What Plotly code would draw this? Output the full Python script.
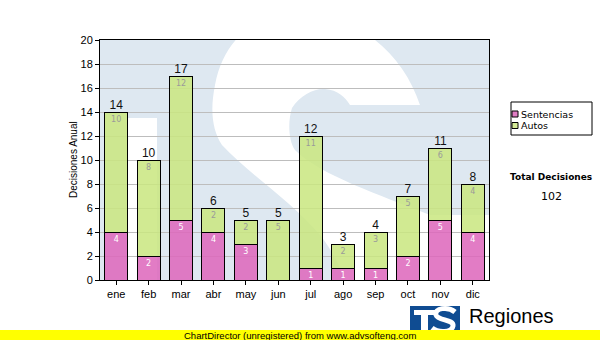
import plotly.graph_objects as go

# Monthly decisions by type
meses = ["ene", "feb", "mar", "abr", "may", "jun", "jul", "ago", "sep", "oct", "nov", "dic"]
sentencias = [4, 2, 5, 4, 3, 0, 1, 1, 1, 2, 5, 4]
autos = [10, 8, 12, 2, 2, 5, 11, 2, 3, 5, 6, 4]
totales = [s + a for s, a in zip(sentencias, autos)]
total_decisiones = sum(totales)
y_ticks = list(range(0, 21, 2))

series_names = ["Sentencias", "Autos"]
series_colors = ["rgba(221,102,187,0.86)", "rgba(202,230,128,0.86)"]
legend_swatch = ["#df7dc3", "#d4ea96"]

# plot area in page pixels
W, H = 600, 340
L, R, T, B = 100, 489, 40, 280
YMAX = 20
NCAT = len(meses)


def pxx(x):
    return (x - L) / (R - L)


def pxy(y):
    return (B - y) / (B - T)


def to_data(x, y):
    return ((x - L) / (R - L) * NCAT - 0.5, (B - y) / (B - T) * YMAX)


def path_from(cmds):
    out = []
    for c in cmds:
        if isinstance(c, str):
            out.append(c)
        else:
            dx, dy = to_data(*c)
            out.append(f"{dx:.3f},{dy:.3f}")
    return " ".join(out)


xs = list(range(NCAT))

fig = go.Figure()
fig.add_bar(
    x=xs, y=sentencias, name=series_names[0], width=0.71,
    marker=dict(color=series_colors[0], line=dict(color="black", width=1)),
    text=[str(v) if v else "" for v in sentencias],
    textposition="inside", insidetextanchor="end", textangle=0,
    constraintext="none",
    textfont=dict(family="DejaVu Sans", size=8, color="white"),
    hoverinfo="skip", showlegend=False,
)
fig.add_bar(
    x=xs, y=autos, name=series_names[1], width=0.71,
    marker=dict(color=series_colors[1], line=dict(color="black", width=1)),
    text=[str(v) if v else "" for v in autos],
    textposition="inside", insidetextanchor="end", textangle=0,
    constraintext="none",
    textfont=dict(family="DejaVu Sans", size=8, color="#9a9a9a"),
    hoverinfo="skip", showlegend=False,
)
fig.add_scatter(
    x=xs, y=totales, mode="text", text=[str(v) for v in totales],
    textposition="top center", cliponaxis=False,
    textfont=dict(family="Liberation Sans", size=12, color="#111111"),
    hoverinfo="skip", showlegend=False,
)

shapes = []
# faint "S" emblem behind the bars
s_path = path_from([
    "M", (420, 105),
    "C", (405, 60), (370, 25), (320, 15),
    "C", (270, 5), (225, 30), (215, 85),
    "C", (210, 110), (212, 130), (222, 145),
    "C", (250, 175), (290, 200), (320, 235),
    "C", (340, 260), (350, 290), (355, 320),
    "L", (520, 320),
    "L", (520, 215),
    "L", (430, 215),
    "C", (380, 195), (320, 175), (295, 150),
    "C", (288, 140), (288, 120), (292, 108),
    "C", (300, 95), (315, 88), (325, 89),
    "C", (338, 90), (345, 97), (350, 105),
    "Z",
])
shapes.append(dict(type="path", path=s_path, xref="x", yref="y", layer="below",
                   fillcolor="white", line=dict(width=0)))
t_path = path_from(["M", (128, 118), "L", (157, 118), "L", (157, 290), "L", (128, 290), "Z"])
shapes.append(dict(type="path", path=t_path, xref="x", yref="y", layer="below",
                   fillcolor="white", line=dict(width=0)))

# legend box
shapes.append(dict(type="rect", xref="paper", yref="paper",
                   x0=pxx(511), x1=pxx(592), y0=pxy(135), y1=pxy(102),
                   line=dict(color="black", width=1), fillcolor="white"))
annotations = []
for i, (name, col) in enumerate(zip(series_names, legend_swatch)):
    cy = 114 + i * 11.5
    shapes.append(dict(type="rect", xref="paper", yref="paper",
                       x0=pxx(512), x1=pxx(518), y0=pxy(cy + 3), y1=pxy(cy - 3),
                       line=dict(color="black", width=1), fillcolor=col))
    annotations.append(dict(text=name, xref="paper", yref="paper", x=pxx(519), y=pxy(cy),
                            xanchor="left", yanchor="middle", showarrow=False,
                            font=dict(family="DejaVu Sans", size=9.5, color="black")))

annotations.append(dict(text="<b>Total Decisiones</b>", xref="paper", yref="paper",
                        x=pxx(551), y=pxy(177), xanchor="center", yanchor="middle",
                        showarrow=False, font=dict(family="DejaVu Sans", size=9, color="black")))
annotations.append(dict(text=str(total_decisiones), xref="paper", yref="paper",
                        x=pxx(551), y=pxy(196), xanchor="center", yanchor="middle",
                        showarrow=False, font=dict(family="DejaVu Sans", size=11, color="black")))

annotations.append(dict(text="Decisiones Anual", xref="paper", yref="paper",
                        x=pxx(73), y=pxy(160), xanchor="center", yanchor="middle",
                        textangle=-90, showarrow=False,
                        font=dict(family="Liberation Sans", size=10, color="black")))

# footer logo
shapes.append(dict(type="rect", xref="paper", yref="paper",
                   x0=pxx(410), x1=pxx(460), y0=pxy(340), y1=pxy(306),
                   line=dict(width=0), fillcolor="#0f4c92"))
shapes.append(dict(type="rect", xref="paper", yref="paper",
                   x0=pxx(414), x1=pxx(436), y0=pxy(315), y1=pxy(310),
                   line=dict(width=0), fillcolor="white"))
shapes.append(dict(type="rect", xref="paper", yref="paper",
                   x0=pxx(421), x1=pxx(428), y0=pxy(330), y1=pxy(312),
                   line=dict(width=0), fillcolor="white"))
logo_s = " ".join([
    f"M {pxx(455):.4f},{pxy(312):.4f}",
    f"C {pxx(448):.4f},{pxy(306):.4f} {pxx(434):.4f},{pxy(308):.4f} {pxx(436):.4f},{pxy(315):.4f}",
    f"C {pxx(438):.4f},{pxy(321):.4f} {pxx(454):.4f},{pxy(319):.4f} {pxx(453):.4f},{pxy(326):.4f}",
    f"C {pxx(452):.4f},{pxy(333):.4f} {pxx(438):.4f},{pxy(333):.4f} {pxx(432):.4f},{pxy(328):.4f}",
])
shapes.append(dict(type="path", xref="paper", yref="paper", path=logo_s,
                   line=dict(color="white", width=5)))
annotations.append(dict(text="Regiones", xref="paper", yref="paper",
                        x=pxx(467), y=pxy(316), xanchor="left", yanchor="middle",
                        showarrow=False,
                        font=dict(family="Liberation Sans", size=20, color="black")))

# unregistered banner
shapes.append(dict(type="rect", xref="paper", yref="paper",
                   x0=pxx(0), x1=pxx(W), y0=pxy(H), y1=pxy(330),
                   line=dict(width=0), fillcolor="#ffff00", layer="above"))
annotations.append(dict(text="ChartDirector (unregistered) from www.advsofteng.com",
                        xref="paper", yref="paper", x=pxx(300), y=pxy(335),
                        xanchor="center", yanchor="middle", showarrow=False,
                        font=dict(family="Liberation Sans", size=9.5, color="black")))

fig.update_layout(
    width=W, height=H,
    margin=dict(l=L, r=W - R, t=T, b=H - B, pad=0),
    barmode="stack",
    paper_bgcolor="white",
    plot_bgcolor="#dee8f1",
    showlegend=False,
    shapes=shapes,
    annotations=annotations,
    font=dict(family="Liberation Sans", size=11, color="black"),
    xaxis=dict(
        range=[-0.5, NCAT - 0.5], tickvals=xs, ticktext=meses,
        showgrid=False, zeroline=False,
        showline=True, linecolor="black", linewidth=1, mirror=True,
        ticks="outside", ticklen=4, tickcolor="black",
        tickfont=dict(family="Liberation Sans", size=11, color="black"),
        fixedrange=True,
    ),
    yaxis=dict(
        range=[0, YMAX], tickvals=y_ticks,
        showgrid=True, gridcolor="#bdbdbd", gridwidth=1, zeroline=False,
        showline=True, linecolor="black", linewidth=1, mirror=True,
        ticks="outside", ticklen=4, tickcolor="black",
        tickfont=dict(family="Liberation Sans", size=11, color="black"),
        fixedrange=True,
    ),
)

fig.write_html("out.html", config={"displayModeBar": False})
